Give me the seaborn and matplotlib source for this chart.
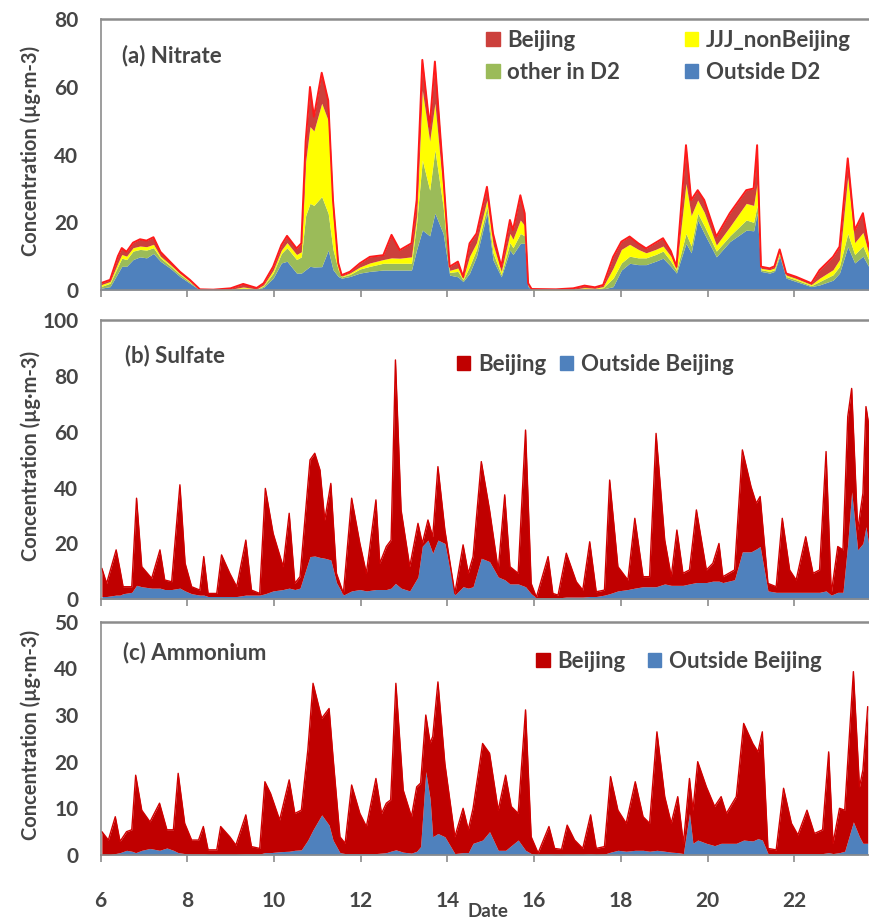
import numpy as np
import matplotlib
matplotlib.use("Agg")
import matplotlib.pyplot as plt
from matplotlib.patches import Patch
import seaborn as sns

# ---------------- data ----------------
# (a) Nitrate : day, and layer thickness of each source
day_a = [6.00, 6.22, 6.40, 6.49, 6.60, 6.75, 6.91, 7.06, 7.22, 7.38, 7.60, 7.83, 8.06, 8.29, 8.60,
         9.00, 9.29, 9.60, 9.76, 9.98, 10.17, 10.30, 10.52, 10.63, 10.73, 10.83, 10.92, 11.10, 11.25,
         11.36, 11.48, 11.56, 11.75, 11.98, 12.21, 12.52, 12.71, 12.90, 13.17, 13.29, 13.42, 13.59,
         13.71, 13.90, 14.05, 14.24, 14.36, 14.51, 14.67, 14.91, 15.05, 15.24, 15.44, 15.51, 15.68,
         15.78, 15.86, 15.94, 16.50, 16.90, 17.16, 17.40, 17.59, 17.82, 18.01, 18.20, 18.40, 18.58,
         18.80, 18.97, 19.15, 19.28, 19.50, 19.62, 19.77, 19.92, 20.20, 20.51, 20.89, 21.06, 21.14,
         21.23, 21.43, 21.54, 21.66, 21.81, 22.04, 22.39, 22.58, 22.89, 23.04, 23.23, 23.39, 23.58, 23.71]
outside_d2 = [0.5, 1.0, 5.0, 7.0, 7.0, 9.0, 9.8, 9.5, 10.8, 8.5, 6.5, 4.0, 2.0, 0.0, 0.0,
              0.0, 0.3, 0.1, 0.8, 3.5, 8.0, 8.5, 5.0, 5.0, 6.0, 7.0, 6.8, 6.9, 11.8,
              6.0, 4.0, 3.5, 4.0, 5.0, 5.5, 5.9, 5.9, 5.9, 5.9, 12.0, 17.7, 16.0,
              22.7, 16.7, 4.4, 3.9, 2.5, 5.0, 10.0, 22.7, 8.9, 3.9, 11.8, 10.5, 13.8,
              13.8, 1.0, 0.0, 0.0, 0.0, 0.2, 0.1, 0.3, 1.0, 5.9, 7.9, 7.5, 7.5,
              8.5, 9.4, 7.0, 5.0, 13.8, 11.0, 20.7, 16.7, 9.8, 14.3, 17.7, 17.5, 22.7,
              5.5, 5.0, 5.5, 10.0, 3.5, 2.5, 1.0, 1.5, 2.9, 5.0, 12.8, 8.0, 10.0, 7.0]
other_d2 = [0.5, 1.0, 2.0, 2.4, 2.0, 2.5, 2.2, 2.3, 1.7, 1.0, 0.7, 0.6, 0.4, 0.1, 0.0,
            0.1, 0.3, 0.1, 0.4, 1.5, 2.8, 4.0, 4.0, 4.8, 16.0, 18.6, 18.2, 20.7, 10.8,
            6.0, 2.0, 0.4, 0.6, 1.2, 1.5, 2.0, 2.0, 2.0, 2.0, 8.0, 20.7, 13.5,
            18.7, 7.9, 0.8, 1.6, 0.5, 2.0, 2.0, 1.9, 2.1, 0.7, 2.2, 2.0, 2.9,
            2.2, 0.4, 0.1, 0.0, 0.1, 0.2, 0.2, 0.4, 2.5, 2.1, 2.1, 2.0, 2.0,
            2.0, 2.1, 1.5, 0.8, 2.9, 2.0, 2.0, 2.3, 1.7, 1.7, 3.0, 2.5, 2.3,
            0.5, 0.5, 0.5, 0.8, 0.5, 0.5, 0.3, 1.0, 1.6, 2.0, 3.9, 2.5, 3.0, 2.0]
jjj_nonbeijing = [0.5, 0.5, 1.0, 1.1, 1.0, 1.0, 1.0, 1.0, 1.0, 0.5, 0.4, 0.3, 0.2, 0.0, 0.0,
                  0.1, 0.3, 0.1, 0.3, 0.8, 1.0, 1.5, 1.5, 1.5, 16.0, 22.7, 22.0, 27.6, 27.4,
                  10.0, 1.0, 0.2, 0.4, 0.6, 1.0, 1.1, 1.6, 1.5, 1.9, 2.0, 20.6, 14.5,
                  13.8, 4.9, 0.6, 1.0, 0.4, 3.0, 2.0, 2.0, 2.5, 0.9, 2.7, 2.5, 4.0,
                  3.0, 0.3, 0.1, 0.1, 0.1, 0.3, 0.2, 0.3, 3.0, 4.0, 3.5, 2.5, 1.5,
                  1.5, 1.5, 1.5, 0.5, 14.8, 9.0, 3.9, 4.0, 1.8, 2.7, 4.9, 5.0, 6.5,
                  0.4, 0.5, 0.5, 0.6, 0.4, 0.4, 0.3, 1.0, 1.5, 2.0, 16.8, 3.5, 4.0, 2.0]
beijing_a = [0.5, 0.5, 2.0, 1.9, 1.3, 1.5, 2.0, 1.8, 2.1, 1.3, 0.8, 0.5, 0.4, 0.1, 0.1,
             0.3, 0.9, 0.3, 0.5, 1.1, 1.5, 2.0, 1.8, 2.5, 6.0, 11.7, 4.2, 9.0, 6.0,
             4.6, 1.0, 0.3, 0.4, 1.1, 1.8, 1.3, 6.8, 2.4, 4.0, 4.6, 9.0, 4.3,
             12.3, 5.0, 1.1, 1.9, 0.5, 3.8, 2.7, 3.9, 3.2, 1.4, 4.0, 2.7, 7.3,
             3.7, 0.3, 0.1, 0.1, 0.3, 0.6, 0.3, 0.5, 3.3, 2.3, 2.3, 1.8, 1.3,
             2.0, 2.3, 1.5, 0.6, 11.3, 4.6, 2.9, 3.6, 2.5, 4.0, 3.9, 5.0, 11.3,
             0.5, 0.4, 0.5, 0.6, 0.5, 0.5, 0.4, 2.4, 3.8, 3.8, 5.4, 3.7, 5.7, 1.8]

# (b) Sulfate
day_b = [6.03, 6.14, 6.36, 6.45, 6.52, 6.72, 6.83, 6.95, 7.18, 7.37, 7.48, 7.64, 7.83, 7.95, 8.10,
         8.29, 8.38, 8.48, 8.68, 8.79, 8.98, 9.14, 9.35, 9.48, 9.67, 9.80, 9.98, 10.21, 10.35, 10.48,
         10.60, 10.83, 10.94, 11.06, 11.17, 11.31, 11.44, 11.60, 11.79, 11.98, 12.13, 12.35, 12.44,
         12.59, 12.70, 12.80, 12.93, 13.13, 13.32, 13.42, 13.55, 13.66, 13.78, 13.94, 14.17, 14.36,
         14.48, 14.59, 14.78, 14.97, 15.17, 15.32, 15.44, 15.63, 15.80, 15.93, 16.05, 16.32, 16.43,
         16.55, 16.74, 16.97, 17.12, 17.28, 17.43, 17.62, 17.74, 17.93, 18.16, 18.32, 18.51, 18.66,
         18.81, 19.01, 19.16, 19.29, 19.43, 19.58, 19.74, 19.97, 20.12, 20.26, 20.35, 20.62, 20.80,
         21.00, 21.12, 21.21, 21.39, 21.58, 21.72, 21.89, 22.04, 22.26, 22.43, 22.58, 22.73, 22.85,
         23.00, 23.12, 23.23, 23.32, 23.46, 23.58, 23.65, 23.71]
outside_b = [1.0, 1.0, 1.5, 1.5, 2.0, 2.5, 5.0, 4.5, 4.0, 4.0, 3.5, 3.5, 4.0, 3.0, 2.0,
             1.5, 1.5, 1.0, 1.0, 1.0, 1.0, 1.0, 1.5, 1.5, 1.5, 2.0, 3.0, 3.5, 4.0, 3.5,
             4.0, 15.3, 15.5, 15.0, 14.7, 14.1, 6.0, 1.5, 3.0, 3.5, 3.0, 3.5, 3.5,
             3.5, 4.0, 5.7, 4.0, 3.0, 8.0, 19.0, 21.2, 16.5, 21.2, 20.0, 1.5, 4.5,
             4.0, 4.5, 14.7, 13.5, 8.0, 7.0, 5.5, 5.5, 4.5, 2.0, 0.5, 0.5, 0.5,
             0.5, 0.8, 0.8, 0.8, 1.0, 1.0, 1.5, 2.0, 3.0, 3.5, 4.0, 4.5, 4.5,
             4.5, 5.5, 5.0, 5.0, 5.0, 5.5, 6.0, 6.0, 6.5, 6.5, 6.0, 7.0, 17.0,
             17.0, 18.0, 18.9, 3.0, 2.5, 2.5, 2.5, 2.5, 2.5, 2.5, 2.5, 3.0, 1.5,
             2.5, 2.5, 20.0, 38.5, 17.7, 20.0, 26.0, 20.0]
beijing_b = [10.1, 4.7, 16.2, 9.0, 2.5, 2.0, 31.2, 7.2, 3.5, 13.7, 3.4, 2.8, 37.0, 9.9, 2.5,
             1.8, 13.8, 1.1, 1.1, 14.9, 8.3, 3.5, 19.7, 1.8, 0.6, 37.7, 20.6, 8.2, 26.8, 2.2,
             4.1, 34.6, 36.8, 31.3, 13.7, 27.4, 3.3, 0.6, 33.2, 16.5, 6.3, 32.1, 9.4,
             15.4, 17.2, 80.0, 28.0, 8.7, 19.2, 1.0, 7.2, 5.9, 26.3, 4.8, 0.6, 15.0,
             5.3, 10.8, 34.6, 18.5, 2.5, 30.4, 6.2, 3.8, 56.1, 3.7, 0.2, 14.8, 1.6,
             1.0, 15.7, 5.5, 2.5, 19.6, 1.7, 1.8, 40.7, 8.7, 3.4, 25.0, 3.6, 3.6,
             54.9, 15.7, 3.1, 19.8, 4.3, 5.0, 26.0, 4.5, 6.4, 13.5, 2.1, 3.5, 36.5,
             23.3, 16.4, 17.9, 2.7, 2.0, 26.5, 8.0, 4.4, 19.9, 6.8, 8.0, 49.9, 0.6,
             16.4, 15.2, 45.4, 37.0, 7.1, 18.0, 43.0, 43.0]

# (c) Ammonium
day_c = [6.03, 6.18, 6.34, 6.45, 6.60, 6.72, 6.81, 6.95, 7.14, 7.36, 7.53, 7.68, 7.79, 7.94, 8.10,
         8.26, 8.37, 8.48, 8.68, 8.77, 8.98, 9.12, 9.35, 9.48, 9.67, 9.79, 9.92, 10.13, 10.35, 10.48,
         10.63, 10.78, 10.90, 11.10, 11.27, 11.36, 11.52, 11.64, 11.79, 11.98, 12.13, 12.35, 12.48,
         12.59, 12.69, 12.81, 12.98, 13.17, 13.29, 13.38, 13.50, 13.60, 13.66, 13.78, 13.94, 14.17,
         14.36, 14.48, 14.59, 14.81, 14.97, 15.17, 15.34, 15.47, 15.63, 15.80, 15.93, 16.09, 16.34,
         16.47, 16.63, 16.76, 16.93, 17.12, 17.30, 17.43, 17.62, 17.76, 17.93, 18.12, 18.33, 18.51,
         18.66, 18.83, 19.01, 19.16, 19.31, 19.44, 19.58, 19.66, 19.77, 19.97, 20.16, 20.31, 20.43,
         20.66, 20.83, 21.04, 21.16, 21.26, 21.39, 21.58, 21.75, 21.93, 22.08, 22.29, 22.46, 22.65,
         22.79, 22.89, 23.04, 23.16, 23.36, 23.50, 23.58, 23.69]
outside_c = [0.0, 0.0, 0.3, 0.5, 1.0, 0.8, 0.5, 1.0, 1.4, 1.0, 1.5, 1.0, 0.5, 0.3, 0.2,
             0.2, 0.2, 0.1, 0.1, 0.1, 0.1, 0.1, 0.2, 0.2, 0.2, 0.5, 0.5, 0.7, 0.8, 1.0,
             1.1, 3.2, 5.4, 8.6, 6.4, 3.2, 0.5, 0.3, 0.3, 0.3, 0.3, 0.3, 0.4,
             0.5, 0.8, 1.1, 0.6, 0.4, 0.8, 1.8, 17.9, 12.0, 3.9, 4.6, 3.9, 0.3,
             0.5, 0.5, 2.5, 3.2, 5.0, 1.0, 1.0, 2.0, 3.2, 1.0, 0.3, 0.0, 0.1,
             0.0, 0.0, 0.1, 0.1, 0.1, 0.2, 0.1, 0.2, 0.6, 1.0, 0.8, 1.0, 1.0,
             0.8, 1.0, 0.8, 0.6, 0.5, 0.3, 8.9, 2.5, 3.2, 2.5, 2.0, 2.5, 2.5,
             2.5, 3.2, 3.0, 3.5, 3.2, 0.3, 0.2, 0.3, 0.3, 0.3, 0.3, 0.3, 0.3,
             0.5, 0.3, 0.5, 0.8, 7.1, 3.9, 2.5, 2.5]
beijing_c = [5.0, 3.2, 7.9, 2.4, 4.0, 4.6, 16.6, 8.6, 5.7, 10.1, 3.9, 4.4, 17.0, 6.5, 3.0,
             3.0, 5.9, 1.0, 1.0, 6.0, 3.8, 2.0, 8.4, 1.6, 1.2, 15.2, 12.7, 6.8, 15.3, 7.9,
             8.5, 19.3, 31.4, 20.7, 25.0, 17.9, 3.4, 2.2, 14.7, 8.6, 5.8, 16.1, 8.5,
             10.6, 11.0, 35.7, 13.3, 7.8, 13.8, 13.6, 12.1, 12.0, 21.5, 32.5, 15.7, 3.6,
             9.5, 4.9, 7.5, 20.7, 16.8, 8.6, 16.1, 8.4, 5.7, 30.1, 3.6, 0.4, 6.0,
             1.4, 1.2, 6.3, 3.1, 1.3, 8.4, 1.3, 1.6, 16.2, 8.6, 6.0, 14.7, 7.2,
             6.0, 25.4, 11.7, 6.2, 12.0, 2.2, 7.5, 7.1, 16.8, 12.1, 8.4, 10.0, 6.4,
             10.0, 25.0, 20.9, 18.6, 23.2, 1.1, 0.9, 14.0, 6.5, 4.0, 9.3, 4.3, 5.1,
             21.6, 2.2, 9.5, 8.8, 32.2, 10.7, 15.7, 29.3]

xticks = [6, 8, 10, 12, 14, 16, 18, 20, 22]
ylabel = "Concentration (\u00b5g\u00b7m-3)"

# ---------------- style ----------------
sns.set_theme(style="white")
plt.rcParams['font.family'] = ['Lato', 'DejaVu Sans']
TXT = '#454545'
GRAY = '#8c8c8c'
BLUE = '#4F81BD'
GREEN = '#9BBB59'
YELLOW = '#FFFF00'
RED_A = '#CC403C'
RED_B = '#C00000'
FS_TICK = 15
FS_LAB = 14.5
FS_TXT = 16

fig = plt.figure(figsize=(8.69, 9.23), dpi=100)
left = 0.1157
width = 1.0 - left
ax_a = fig.add_axes([left, 0.6858, width, 0.2933])
ax_b = fig.add_axes([left, 0.3507, width, 0.3026])
ax_c = fig.add_axes([left, 0.0737, width, 0.2527])

# panel a
ax_a.stackplot(day_a, outside_d2, other_d2, jjj_nonbeijing, beijing_a,
               colors=[BLUE, GREEN, YELLOW, RED_A], linewidth=0)
total_a = np.sum([outside_d2, other_d2, jjj_nonbeijing, beijing_a], axis=0)
sns.lineplot(x=day_a, y=total_a, ax=ax_a, color='#FF1A1A', linewidth=1.4, legend=False)

# panel b
ax_b.stackplot(day_b, outside_b, beijing_b, colors=[BLUE, RED_B], linewidth=0)
sns.lineplot(x=day_b, y=np.add(outside_b, beijing_b), ax=ax_b, color='#D00000', linewidth=1.0, legend=False)

# panel c
ax_c.stackplot(day_c, outside_c, beijing_c, colors=[BLUE, RED_B], linewidth=0)
sns.lineplot(x=day_c, y=np.add(outside_c, beijing_c), ax=ax_c, color='#D00000', linewidth=1.0, legend=False)

for ax, ymax, ystep in [(ax_a, 80, 20), (ax_b, 100, 20), (ax_c, 50, 10)]:
    ax.set_xlim(6, 23.72)
    ax.set_ylim(0, ymax)
    ax.set_yticks(np.arange(0, ymax + 1, ystep))
    ax.set_xticks(xticks)
    for s in ['top', 'left', 'bottom']:
        ax.spines[s].set_visible(True)
        ax.spines[s].set_color(GRAY)
        ax.spines[s].set_linewidth(1.2)
    ax.spines['top'].set_linewidth(1.8)
    ax.spines['right'].set_visible(False)
    ax.tick_params(axis='x', direction='out', length=5, width=1.2, color=GRAY,
                   bottom=True, labelsize=FS_TICK, labelcolor=TXT, pad=21)
    ax.tick_params(axis='y', length=0, labelsize=FS_TICK, labelcolor=TXT, pad=16)
    for lab in ax.get_yticklabels() + ax.get_xticklabels():
        lab.set_fontweight('bold')
    ax.set_xlabel('')
    ax.set_ylabel('')
    ax.grid(False)

ax_a.tick_params(axis='x', labelbottom=False)
ax_b.tick_params(axis='x', labelbottom=False)

for ax in [ax_a, ax_b, ax_c]:
    pos = ax.get_position()
    fig.text(0.035, pos.y0 + pos.height / 2 + 0.004, ylabel, rotation=90, ha='center', va='center',
             fontsize=FS_LAB, color=TXT, fontweight='bold')

fig.text(0.562, 0.003, 'Date', fontsize=13.5, color=TXT, fontweight='bold',
         ha='center', va='bottom')

ax_a.text(0.028, 0.866, '(a) Nitrate', transform=ax_a.transAxes, fontsize=FS_TXT, color=TXT,
          fontweight='bold', va='center', ha='left')
ax_b.text(0.032, 0.873, '(b) Sulfate', transform=ax_b.transAxes, fontsize=FS_TXT, color=TXT,
          fontweight='bold', va='center', ha='left')
ax_c.text(0.029, 0.869, '(c) Ammonium', transform=ax_c.transAxes, fontsize=FS_TXT, color=TXT,
          fontweight='bold', va='center', ha='left')

leg_kw = dict(frameon=False, handlelength=0.6, handleheight=0.6,
              handletextpad=0.35, borderpad=0, borderaxespad=0, labelcolor=TXT,
              prop={'weight': 'bold', 'size': FS_TXT})
h_a = [Patch(color=RED_A), Patch(color=GREEN), Patch(color=YELLOW), Patch(color=BLUE)]
l_a = ['Beijing', 'other in D2', 'JJJ_nonBeijing', 'Outside D2']
ax_a.legend(h_a, l_a, ncol=2, loc='upper left', bbox_to_anchor=(0.502, 0.962),
            columnspacing=2.9, labelspacing=0.5, **leg_kw)
h_bc = [Patch(color=RED_B), Patch(color=BLUE)]
l_bc = ['Beijing', 'Outside Beijing']
ax_b.legend(h_bc, l_bc, ncol=2, loc='upper left', bbox_to_anchor=(0.464, 0.88),
            columnspacing=0.6, **leg_kw)
ax_c.legend(h_bc, l_bc, ncol=2, loc='upper left', bbox_to_anchor=(0.567, 0.876),
            columnspacing=1.0, **leg_kw)

fig.savefig('out.png', dpi=100)
